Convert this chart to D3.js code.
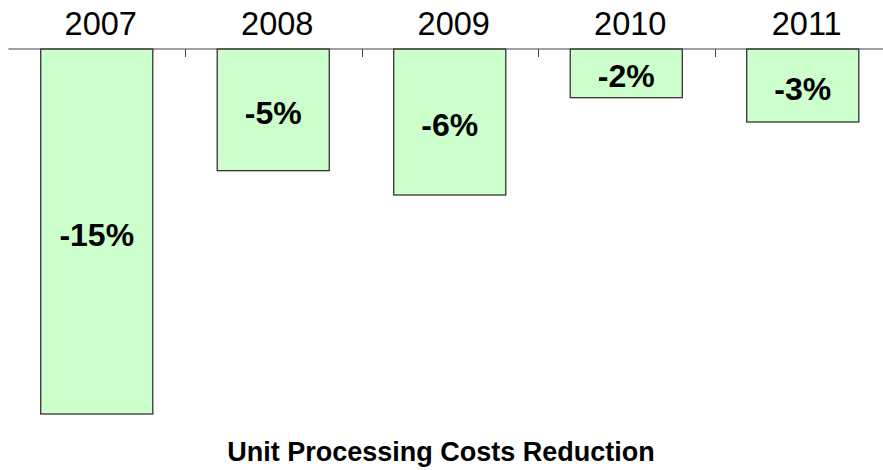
<!DOCTYPE html>
<html>
<head>
<meta charset="utf-8">
<script src="https://cdn.jsdelivr.net/npm/d3@7"></script>
<style>
  body { margin: 0; background: #fff; }
  svg { display: block; font-family: Arial, "Liberation Sans", sans-serif; }
</style>
</head>
<body>
<div id="chart"></div>
<script>
let years = ["2007", "2008", "2009", "2010", "2011"]
let reduction = [-15, -5, -6, -2, -3]
let title = "Unit Processing Costs Reduction"

let width = 883
let height = 470
let axisY = 49

let svg = d3.select("#chart").append("svg")
    .attr("width", width)
    .attr("height", height)

// band scale: ticks sit between the categories, bars centred in each band
let x = d3.scaleBand()
    .domain(years)
    .range([8.5, 891])
    .paddingInner(0.365)
    .paddingOuter(0.1825)

let y = d3.scaleLinear()
    .domain([0, -15])
    .range([axisY, 414])

let step = x.step()

// bars
svg.append("g").selectAll("rect")
    .data(years)
    .join("rect")
    .attr("x", d => x(d))
    .attr("y", y(0))
    .attr("width", x.bandwidth())
    .attr("height", (d, i) => y(reduction[i]) - y(0))
    .attr("fill", "#ccffcc")
    .attr("stroke", "#333")
    .attr("stroke-width", 1.3)

// axis line along zero
svg.append("line")
    .attr("x1", x.range()[0])
    .attr("x2", x.range()[1])
    .attr("y1", y(0))
    .attr("y2", y(0))
    .attr("stroke", "#444")
    .attr("stroke-width", 1.2)

// tick marks between categories
svg.append("g").selectAll("line")
    .data(years.slice(1))
    .join("line")
    .attr("x1", d => Math.round(x(d) - step * x.paddingInner() / 2) + 0.5)
    .attr("x2", d => Math.round(x(d) - step * x.paddingInner() / 2) + 0.5)
    .attr("y1", y(0))
    .attr("y2", y(0) + 8)
    .attr("stroke", "#444")
    .attr("stroke-width", 1)

// year labels above the axis
svg.append("g").selectAll("text")
    .data(years)
    .join("text")
    .attr("x", d => x(d) + x.bandwidth() / 2 + 4)
    .attr("y", 35)
    .attr("text-anchor", "middle")
    .attr("font-size", 32.5)
    .attr("fill", "#000")
    .text(d => d)

// value labels inside bars
svg.append("g").selectAll("text")
    .data(years)
    .join("text")
    .attr("x", d => x(d) + x.bandwidth() / 2)
    .attr("y", (d, i) => (y(0) + y(reduction[i])) / 2 + 14)
    .attr("text-anchor", "middle")
    .attr("font-size", 32)
    .attr("font-weight", "bold")
    .attr("fill", "#000")
    .text((d, i) => reduction[i] + "%")

svg.append("text")
    .attr("x", 441)
    .attr("y", 461)
    .attr("text-anchor", "middle")
    .attr("font-size", 27)
    .attr("font-weight", "bold")
    .text(title)
</script>
</body>
</html>
